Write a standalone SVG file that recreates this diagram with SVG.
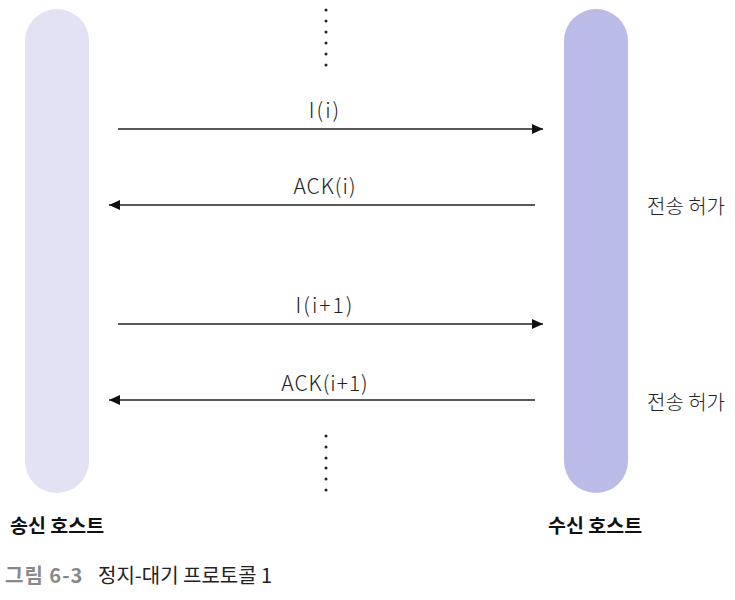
<svg xmlns="http://www.w3.org/2000/svg" width="735" height="600" viewBox="0 0 735 600">
<style>
.lbl{font-family:"Noto Sans CJK KR","Liberation Sans",sans-serif;font-size:21px;fill:#222;font-weight:300}
.kr{font-family:"Noto Sans CJK KR","Liberation Sans",sans-serif;font-size:20px;fill:#222;font-weight:300}
.host{font-family:"Noto Sans CJK KR","Liberation Sans",sans-serif;font-size:19.5px;fill:#111;font-weight:700}
.cap{font-family:"Noto Sans CJK KR","Liberation Sans",sans-serif;font-size:20px}
.ln{stroke:#222;stroke-width:1.3;fill:none}
.dot{fill:#222}
</style>
<defs>
<marker id="ah" markerWidth="11" markerHeight="10" refX="11" refY="5" orient="auto" markerUnits="userSpaceOnUse">
<path d="M0,0 L11,5 L0,10 Z" fill="#111"/>
</marker>
</defs>
<rect width="735" height="600" fill="#fff"/>
<g id="sender">
<rect x="25" y="9" width="64" height="484" rx="32" fill="#E2E2F4"/>
<text class="host" x="10" y="533">송신 호스트</text>
</g>
<g id="receiver">
<rect x="564" y="9" width="64" height="484" rx="32" fill="#BBBBE8"/>
<text class="host" x="548" y="533">수신 호스트</text>
</g>
<g id="dots">
<circle class="dot" cx="326" cy="10" r="1.5"/><circle class="dot" cx="326" cy="21" r="1.5"/><circle class="dot" cx="326" cy="32" r="1.5"/><circle class="dot" cx="326" cy="43" r="1.5"/><circle class="dot" cx="326" cy="54" r="1.5"/><circle class="dot" cx="326" cy="65" r="1.5"/>
<circle class="dot" cx="326" cy="436" r="1.5"/><circle class="dot" cx="326" cy="447" r="1.5"/><circle class="dot" cx="326" cy="458" r="1.5"/><circle class="dot" cx="326" cy="468" r="1.5"/><circle class="dot" cx="326" cy="479" r="1.5"/><circle class="dot" cx="326" cy="490" r="1.5"/>
</g>
<g id="connectors">
<line class="ln" x1="118" y1="129" x2="543" y2="129" marker-end="url(#ah)"/>
<line class="ln" x1="535" y1="205" x2="109" y2="205" marker-end="url(#ah)"/>
<line class="ln" x1="118" y1="324" x2="543" y2="324" marker-end="url(#ah)"/>
<line class="ln" x1="535" y1="400" x2="109" y2="400" marker-end="url(#ah)"/>
</g>
<g id="labels">
<text class="lbl" x="325" y="118" text-anchor="middle" letter-spacing="2">I(i)</text>
<text class="lbl" x="325" y="194" text-anchor="middle" letter-spacing="1">ACK(i)</text>
<text class="lbl" x="325" y="313" text-anchor="middle" letter-spacing="2">I(i+1)</text>
<text class="lbl" x="325" y="391" text-anchor="middle" letter-spacing="1">ACK(i+1)</text>
<text class="kr" x="647" y="214">전송 허가</text>
<text class="kr" x="647" y="410">전송 허가</text>
</g>
<g id="caption">
<text class="cap" x="5" y="583"><tspan fill="#888" font-weight="700" letter-spacing="1">그림 6-3</tspan><tspan x="98" fill="#222" font-weight="400">정지-대기 프로토콜 1</tspan></text>
</g>
</svg>
